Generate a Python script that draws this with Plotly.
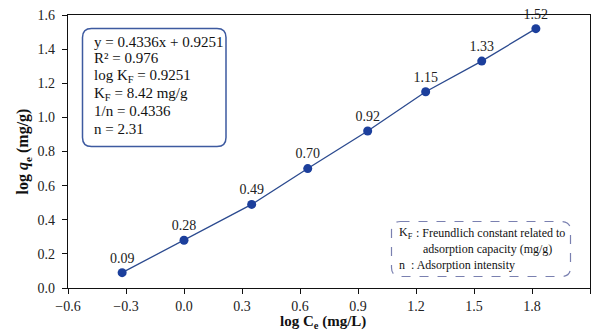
import plotly.graph_objects as go

# Freundlich isotherm: log Ce vs log qe
log_ce = [-0.32, 0.00, 0.35, 0.64, 0.95, 1.25, 1.54, 1.82]
log_qe = [0.09, 0.28, 0.49, 0.70, 0.92, 1.15, 1.33, 1.52]
qe_labels = ["0.09", "0.28", "0.49", "0.70", "0.92", "1.15", "1.33", "1.52"]

x_ticks = [-0.6, -0.3, 0.0, 0.3, 0.6, 0.9, 1.2, 1.5, 1.8, 2.1]
y_ticks = [0.0, 0.2, 0.4, 0.6, 0.8, 1.0, 1.2, 1.4, 1.6]

fit_lines = [
    "y = 0.4336x + 0.9251",
    "R² = 0.976",
    "log K<sub>F</sub> = 0.9251",
    "K<sub>F</sub> = 8.42 mg/g",
    "1/n = 0.4336",
    "n = 2.31",
]

W, H = 594, 332
ML, MR, MT, MB = 68, 4, 15, 44
PW, PH = W - ML - MR, H - MT - MB
SERIF = "Liberation Serif"


def px(x):
    return (x - ML) / PW


def py(y):
    return (H - MB - y) / PH


def rounded_box(x0, y0, x1, y1, r):
    """SVG path for a rounded rectangle given in pixel coords, output in paper coords."""
    pts = [
        f"M {px(x0 + r)} {py(y0)}",
        f"L {px(x1 - r)} {py(y0)}",
        f"Q {px(x1)} {py(y0)} {px(x1)} {py(y0 + r)}",
        f"L {px(x1)} {py(y1 - r)}",
        f"Q {px(x1)} {py(y1)} {px(x1 - r)} {py(y1)}",
        f"L {px(x0 + r)} {py(y1)}",
        f"Q {px(x0)} {py(y1)} {px(x0)} {py(y1 - r)}",
        f"L {px(x0)} {py(y0 + r)}",
        f"Q {px(x0)} {py(y0)} {px(x0 + r)} {py(y0)}",
        "Z",
    ]
    return " ".join(pts)


fig = go.Figure()
fig.add_trace(go.Scatter(
    x=log_ce, y=log_qe,
    mode="lines+markers+text",
    text=qe_labels,
    textposition="top center",
    textfont=dict(family=SERIF, size=14, color="#222222"),
    line=dict(color="#2b4a8f", width=1.3),
    marker=dict(color="#1c3f9c", size=9),
    cliponaxis=False,
    showlegend=False,
))

shapes = [
    dict(type="path", xref="paper", yref="paper",
         path=rounded_box(82.5, 28.5, 226, 146.5, 9),
         line=dict(color="#3d5aa0", width=1.5), fillcolor="white", layer="below"),
    dict(type="path", xref="paper", yref="paper",
         path=rounded_box(391.5, 221.5, 570.5, 276.5, 9),
         line=dict(color="#7a80b0", width=1.2, dash="dash"), fillcolor="white", layer="below"),
]

annotations = []
line_y = [41.5, 57.5, 75.5, 93.5, 111.5, 129]
for t, yy in zip(fit_lines, line_y):
    annotations.append(dict(
        x=px(92), y=py(yy), xref="paper", yref="paper",
        xanchor="left", yanchor="middle", text=t, showarrow=False,
        font=dict(family=SERIF, size=15, color="#111111"),
    ))

legend_items = [
    (397, 233, "K<sub>F</sub>"),
    (414, 233, ": Freundlich constant related to"),
    (421, 248.5, "adsorption capacity (mg/g)"),
    (397, 264.5, "n"),
    (409, 264.5, ": Adsorption intensity"),
]
for xx, yy, t in legend_items:
    annotations.append(dict(
        x=px(xx), y=py(yy), xref="paper", yref="paper",
        xanchor="left", yanchor="middle", text=t, showarrow=False,
        font=dict(family=SERIF, size=12, color="#111111"),
    ))

# x-axis title placed in the bottom margin
annotations.append(dict(
    x=px(323), y=py(333), xref="paper", yref="paper",
    xanchor="center", yanchor="bottom", showarrow=False,
    text="<b>log C<sub>e</sub> (mg/L)</b>",
    font=dict(family=SERIF, size=15, color="#111111"),
))

axis_common = dict(
    showgrid=False, zeroline=False, automargin=False,
    showline=True, linecolor="#111111", linewidth=1.2, mirror=True,
    ticks="outside", ticklen=5, tickcolor="#111111", tickwidth=1,
    tickfont=dict(family=SERIF, size=14, color="#222222"),
)

fig.update_layout(
    width=W, height=H,
    margin=dict(l=ML, r=MR, t=MT, b=MB),
    plot_bgcolor="white", paper_bgcolor="white",
    font=dict(family=SERIF),
    shapes=shapes, annotations=annotations,
    xaxis=dict(
        range=[-0.6, 2.1], tickvals=x_ticks,
        ticktext=[f"{v:.1f}".replace("-", "\u2212") for v in x_ticks],
        ticklabelstandoff=0,
        **axis_common,
    ),
    yaxis=dict(
        range=[0, 1.6], tickvals=y_ticks,
        ticktext=[f"{v:.1f}" for v in y_ticks],
        ticklabelstandoff=4,
        title=dict(text="<b>log <i>q</i><sub>e</sub> (mg/g)</b>",
                   font=dict(family=SERIF, size=16, color="#111111"), standoff=4),
        **axis_common,
    ),
)

fig.write_html("out.html")
